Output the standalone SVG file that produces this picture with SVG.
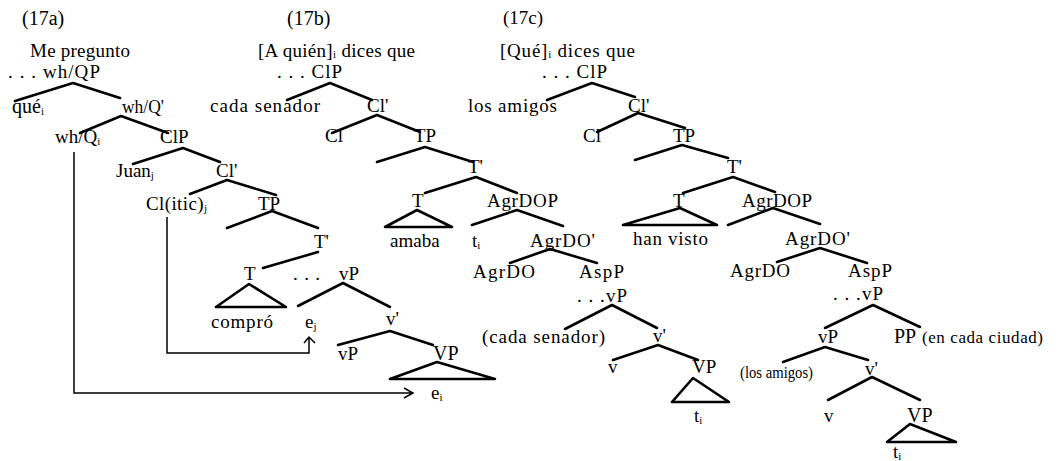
<svg xmlns="http://www.w3.org/2000/svg" width="1060" height="461" viewBox="0 0 1060 461">
<style>
text{font-family:"Liberation Serif","Times New Roman",serif;font-size:19px;fill:#000}
.lg{font-size:20px}
.sm{font-size:17px}
.xs{font-size:16px}
.sub{font-size:11px}
.e{stroke:#000;stroke-width:2.6;fill:none;stroke-linecap:round;stroke-linejoin:round}
.c{stroke:#000;stroke-width:1.5;fill:none}
</style>
<rect width="1060" height="461" fill="#fff"/>
<g id="connectors">
<!-- 17a -->
<path class="e" d="M15,101 L73,83 L120,98"/>
<path class="e" d="M80,133 L121,116 L168,133"/>
<path class="e" d="M133,164 L183,148 L220,162"/>
<path class="e" d="M190,194 L227,180 L276,195"/>
<path class="e" d="M227,228 L272,211 L318,228"/>
<path class="e" d="M263,268 L318,252"/>
<path class="e" d="M298,306 L343,283 L390,307"/>
<path class="e" d="M338,345 L390,331 L433,345"/>
<path class="c" d="M74,152 V393 H413 M404,388 L413,393 L404,398"/>
<path class="c" d="M167,217 V353 H309 V337 M304,343 L309,337 L315,343"/>
<!-- 17b -->
<path class="e" d="M287,100 L330,83 L372,100"/>
<path class="e" d="M332,133 L377,115 L420,132"/>
<path class="e" d="M377,162 L425,147 L473,162"/>
<path class="e" d="M425,193 L476,177 L517,193"/>
<path class="e" d="M472,225 L517,210 L563,226"/>
<path class="e" d="M510,263 L550,249 L597,263"/>
<path class="e" d="M565,329 L612,305 L657,328"/>
<path class="e" d="M613,360 L658,345 L698,360"/>
<!-- 17c -->
<path class="e" d="M547,100 L592,83 L635,97"/>
<path class="e" d="M597,132 L638,113 L685,128"/>
<path class="e" d="M635,160 L682,145 L728,158"/>
<path class="e" d="M683,193 L733,177 L775,192"/>
<path class="e" d="M728,225 L773,208 L820,224"/>
<path class="e" d="M777,262 L820,248 L867,263"/>
<path class="e" d="M825,328 L873,305 L920,327"/>
<path class="e" d="M783,362 L825,347 L868,360"/>
<path class="e" d="M828,400 L872,377 L920,400"/>
</g>
<!-- 17a nodes -->
<g id="a-label"><text class="lg" x="22" y="25">(17a)</text></g>
<g id="a-intro"><text x="30" y="57" textLength="100" lengthAdjust="spacing">Me pregunto</text></g>
<g id="a-whQP"><text x="8" y="78" textLength="92" lengthAdjust="spacing">. . . wh/QP</text></g>
<g id="a-que"><text class="lg" x="12" y="113">qué<tspan class="sub" dy="2">i</tspan></text></g>
<g id="a-whQbar"><text x="122" y="113" textLength="42" lengthAdjust="spacingAndGlyphs">wh/Q'</text></g>
<g id="a-whQ"><text x="55" y="143">wh/Q<tspan class="sub" dy="2">i</tspan></text></g>
<g id="a-ClP"><text x="160" y="143">ClP</text></g>
<g id="a-Juan"><text x="116" y="177">Juan<tspan class="sub" dy="2">j</tspan></text></g>
<g id="a-Clbar"><text x="216" y="177">Cl'</text></g>
<g id="a-Clitic"><text x="146" y="210" textLength="61" lengthAdjust="spacing">Cl(itic)<tspan class="sub" dy="2">j</tspan></text></g>
<g id="a-TP"><text x="258" y="210">TP</text></g>
<g id="a-Tbar"><text x="314" y="248">T'</text></g>
<g id="a-T"><text x="244" y="280">T</text><path class="e" d="M249,284 L216,307 L286,307 Z"/></g>
<g id="a-dots"><text x="293" y="280" textLength="27" lengthAdjust="spacing">. . .</text></g>
<g id="a-vP"><text x="339" y="280">vP</text></g>
<g id="a-compro"><text x="211" y="328" textLength="62" lengthAdjust="spacing">compró</text></g>
<g id="a-ej"><text x="305" y="328">e<tspan class="sub" dy="2">j</tspan></text></g>
<g id="a-vbar"><text x="386" y="325">v'</text></g>
<g id="a-vP2"><text x="338" y="360">vP</text></g>
<g id="a-VP"><text class="lg" x="433" y="360">VP</text><path class="e" d="M437,362 L390,379 L495,379 Z"/></g>
<g id="a-ei"><text x="431" y="399">e<tspan class="sub" dy="2">i</tspan></text></g>
<!-- 17b nodes -->
<g id="b-label"><text class="lg" x="287" y="25">(17b)</text></g>
<g id="b-intro"><text x="258" y="57" textLength="157" lengthAdjust="spacing">[A quién]<tspan class="sub" dy="1">i</tspan><tspan dy="-1"> dices que</tspan></text></g>
<g id="b-ClP"><text x="277" y="78" textLength="65" lengthAdjust="spacing">. . . ClP</text></g>
<g id="b-cada"><text x="210" y="112" textLength="110" lengthAdjust="spacing">cada senador</text></g>
<g id="b-Clbar"><text x="367" y="112">Cl'</text></g>
<g id="b-Cl"><text x="325" y="142">Cl</text></g>
<g id="b-TP"><text x="414" y="142">TP</text></g>
<g id="b-Tbar"><text x="468" y="173">T'</text></g>
<g id="b-T"><text x="412" y="207">T</text><path class="e" d="M417,210 L385,227 L452,227 Z"/></g>
<g id="b-amaba"><text x="390" y="247">amaba</text></g>
<g id="b-AgrDOP"><text x="487" y="207" textLength="71" lengthAdjust="spacing">AgrDOP</text></g>
<g id="b-ti"><text x="472" y="247">t<tspan class="sub" dy="2">i</tspan></text></g>
<g id="b-AgrDObar"><text x="530" y="247" textLength="65" lengthAdjust="spacing">AgrDO'</text></g>
<g id="b-AgrDO"><text x="473" y="278" textLength="62" lengthAdjust="spacing">AgrDO</text></g>
<g id="b-AspP"><text x="579" y="278" textLength="45" lengthAdjust="spacing">AspP</text></g>
<g id="b-vP"><text x="577" y="302" textLength="50" lengthAdjust="spacing">. . .vP</text></g>
<g id="b-cadasen"><text x="482" y="343" textLength="123" lengthAdjust="spacing">(cada senador)</text></g>
<g id="b-vbar"><text x="653" y="342">v'</text></g>
<g id="b-v"><text x="608" y="373">v</text></g>
<g id="b-VP"><text x="692" y="373">VP</text><path class="e" d="M693,378 L672,402 L729,402 Z"/></g>
<g id="b-ti2"><text x="694" y="422">t<tspan class="sub" dy="2">i</tspan></text></g>
<!-- 17c nodes -->
<g id="c-label"><text x="503" y="24">(17c)</text></g>
<g id="c-intro"><text x="500" y="57" textLength="135" lengthAdjust="spacing">[Qué]<tspan class="sub" dy="1">i</tspan><tspan dy="-1"> dices que</tspan></text></g>
<g id="c-ClP"><text x="542" y="78" textLength="65" lengthAdjust="spacing">. . . ClP</text></g>
<g id="c-amigos"><text x="468" y="112" textLength="89" lengthAdjust="spacing">los amigos</text></g>
<g id="c-Clbar"><text x="628" y="112">Cl'</text></g>
<g id="c-Cl"><text x="583" y="142">Cl</text></g>
<g id="c-TP"><text x="673" y="142">TP</text></g>
<g id="c-Tbar"><text x="727" y="173">T'</text></g>
<g id="c-T"><text x="673" y="207">T</text><path class="e" d="M680,208 L623,225 L717,225 Z"/></g>
<g id="c-AgrDOP"><text x="742" y="207" textLength="70" lengthAdjust="spacing">AgrDOP</text></g>
<g id="c-han"><text x="633" y="245" textLength="75" lengthAdjust="spacing">han visto</text></g>
<g id="c-AgrDObar"><text x="785" y="245" textLength="65" lengthAdjust="spacing">AgrDO'</text></g>
<g id="c-AgrDO"><text x="730" y="277" textLength="60" lengthAdjust="spacing">AgrDO</text></g>
<g id="c-AspP"><text x="848" y="277" textLength="44" lengthAdjust="spacing">AspP</text></g>
<g id="c-vP"><text x="833" y="300" textLength="50" lengthAdjust="spacing">. . .vP</text></g>
<g id="c-vP2"><text x="818" y="343">vP</text></g>
<g id="c-PP"><text class="lg" x="894" y="343">PP</text></g>
<g id="c-ciudad"><text class="sm" x="922" y="343" textLength="121" lengthAdjust="spacing">(en cada ciudad)</text></g>
<g id="c-losamigos"><text class="xs" x="740" y="378" textLength="73" lengthAdjust="spacingAndGlyphs">(los amigos)</text></g>
<g id="c-vbar"><text x="865" y="375">v'</text></g>
<g id="c-v"><text x="824" y="422">v</text></g>
<g id="c-VP"><text class="lg" x="907" y="422">VP</text><path class="e" d="M910,424 L887,442 L956,442 Z"/></g>
<g id="c-ti"><text x="893" y="458">t<tspan class="sub" dy="2">i</tspan></text></g>
</svg>
